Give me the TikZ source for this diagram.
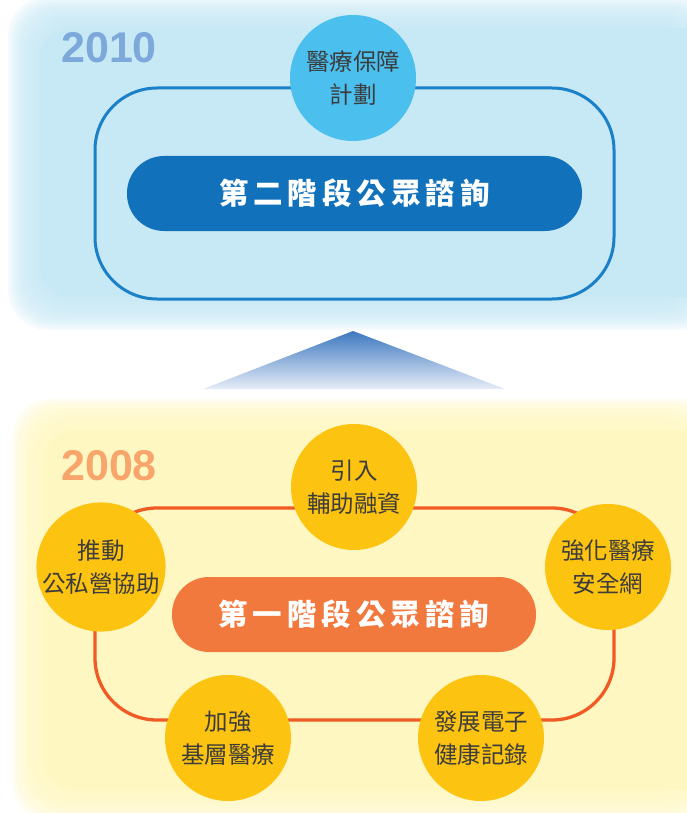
\documentclass[tikz,border=0pt]{standalone}
\usepackage{fontspec}
\setmainfont{Liberation Sans}
\newfontfamily\cjk{Noto Sans CJK TC}
\definecolor{topbg}{HTML}{C7E8F5}
\definecolor{frameblue}{HTML}{1A80C8}
\definecolor{pillblue}{HTML}{1172BB}
\definecolor{circleblue}{HTML}{4BBFEE}
\definecolor{yearblue}{HTML}{7CA8DA}
\definecolor{yellowbg}{HTML}{FFF7C2}
\definecolor{frameorange}{HTML}{F05A24}
\definecolor{pillorange}{HTML}{F2793D}
\definecolor{circleyellow}{HTML}{FCC310}
\definecolor{yearorange}{HTML}{F7A56A}
\definecolor{txtgray}{HTML}{3C3C3C}
\definecolor{triTop}{HTML}{3C78C0}
\definecolor{triBot}{HTML}{E6ECF7}
\tikzset{
  frame/.style={draw, line width=3pt, rounded corners=62pt, minimum width=519pt, minimum height=211pt, inner sep=0pt},
  pill/.style={rounded corners=37pt, minimum height=75pt, inner sep=0pt, text=white,
    font=\cjk\bfseries\fontsize{29.5}{29.5}\selectfont},
  bubble/.style={circle, minimum size=126pt, inner sep=0pt, align=center, text=txtgray,
    font=\cjk\fontsize{23.5}{33}\selectfont},
  year/.style={font=\bfseries\fontsize{43}{43}\selectfont, anchor=west, inner sep=0pt}
}
\newcommand{\chsp}{\hspace{5pt}}
\begin{document}
\begin{tikzpicture}[x=1pt,y=-1pt]
\useasboundingbox (0,0) rectangle (686,813);
% soft backgrounds
\foreach \i in {0,...,12} {
  \fill[topbg, opacity=0.18, rounded corners=40pt] ({8+2.5*\i},{-4+2.5*\i}) rectangle ({720-2.5*\i},{330-2.5*\i});
  \fill[yellowbg, opacity=0.18, rounded corners=40pt] ({12+2.5*\i},{398+2.5*\i}) rectangle ({720-2.5*\i},{822-2.5*\i});
}
\fill[topbg, rounded corners=30pt] (40,28) rectangle (720,297);
\fill[yellowbg, rounded corners=30pt] (44,430) rectangle (720,790);

% 2010 stage
\node[year, text=yearblue] (y2010) at (61,48) {2010};
\node[frame, draw=frameblue] (frameA) at (354.5,193.5) {};
\node[pill, fill=pillblue, minimum width=455pt] (pillA) at (354.5,193.5) {第\chsp 二\chsp 階\chsp 段\chsp 公\chsp 眾\chsp 諮\chsp 詢};
\node[bubble, fill=circleblue] (plan) at (353,78) {醫療保障\\計劃};

% arrow triangle
\coordinate (tl) at (203,389);
\coordinate (tt) at (353,331);
\coordinate (tr) at (505,389);
\shade[top color=triTop, bottom color=triBot] (tl) -- (tt) -- (tr) -- cycle;

% 2008 stage
\node[year, text=yearorange] (y2008) at (61,466) {2008};
\node[frame, draw=frameorange, line width=3.3pt, minimum height=212pt] (frameB) at (354.5,614) {};
\node[pill, fill=pillorange, minimum width=364pt] (pillB) at (354,614.5) {第\chsp 一\chsp 階\chsp 段\chsp 公\chsp 眾\chsp 諮\chsp 詢};
\node[bubble, fill=circleyellow] (c1) at (354,487) {引入\\輔助融資};
\node[bubble, fill=circleyellow] (c2) at (101,567) {推動\\公私營協助};
\node[bubble, fill=circleyellow] (c3) at (608,567) {強化醫療\\安全網};
\node[bubble, fill=circleyellow] (c4) at (228,738) {加強\\基層醫療};
\node[bubble, fill=circleyellow] (c5) at (481,738) {發展電子\\健康記錄};
\end{tikzpicture}
\end{document}
